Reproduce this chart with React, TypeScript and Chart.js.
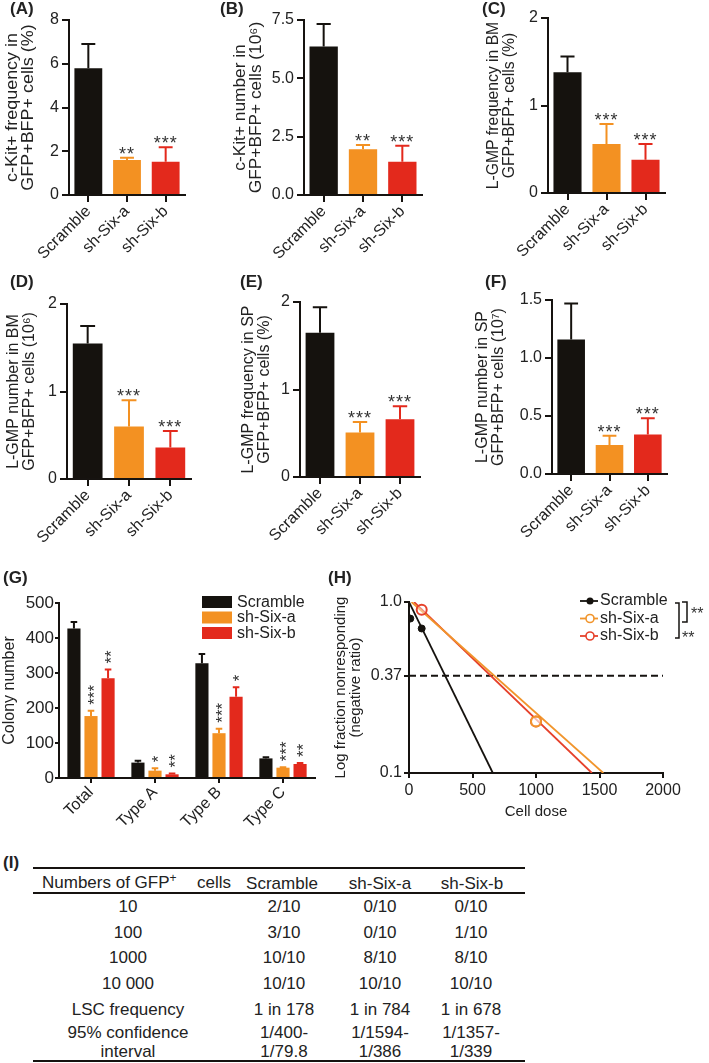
import { useEffect, useRef } from "react"
import { Chart, registerables } from "chart.js"

Chart.register(...registerables)

const FONT = "'Liberation Sans', Arial, Helvetica, sans-serif"
Chart.defaults.font.family = FONT
Chart.defaults.color = "#222"

const INK = "#161310"
const TEXT = "#222"
const STAR = "#333"
const BLACK = "#15120e"
const ORANGE = "#f39122"
const RED = "#e3291c"
const groupColors = [BLACK, ORANGE, RED]

// ---- panels A-F: mean, SEM, significance
const groups = ["Scramble", "sh-Six-a", "sh-Six-b"]

const ckitFreqMean = [5.8, 1.6, 1.52]
const ckitFreqSem = [1.1, 0.1, 0.66]
const ckitFreqStars = ["", "**", "***"]

const ckitNumMean = [6.36, 1.96, 1.43]
const ckitNumSem = [0.97, 0.18, 0.68]
const ckitNumStars = ["", "**", "***"]

const gmpBmFreqMean = [1.38, 0.56, 0.38]
const gmpBmFreqSem = [0.18, 0.23, 0.18]
const gmpBmFreqStars = ["", "***", "***"]

const gmpBmNumMean = [1.55, 0.6, 0.36]
const gmpBmNumSem = [0.2, 0.3, 0.19]
const gmpBmNumStars = ["", "***", "***"]

const gmpSpFreqMean = [1.65, 0.51, 0.66]
const gmpSpFreqSem = [0.29, 0.12, 0.15]
const gmpSpFreqStars = ["", "***", "***"]

const gmpSpNumMean = [1.16, 0.25, 0.34]
const gmpSpNumSem = [0.31, 0.08, 0.14]
const gmpSpNumStars = ["", "***", "***"]

// ---- panel G: colonies
const colonyTypes = ["Total", "Type A", "Type B", "Type C"]
const colonyScramble = [427, 44, 328, 56]
const colonyScrambleSem = [19, 5, 26, 3]
const colonySixA = [177, 21, 128, 29.5]
const colonySixASem = [15, 7, 13, 1.5]
const colonySixB = [285, 10.5, 232, 40]
const colonySixBSem = [25, 2.5, 27, 3]
const colonyStarsScramble = ["", "", "", ""]
const colonyStarsSixA = ["***", "*", "***", "***"]
const colonyStarsSixB = ["**", "**", "*", "**"]

// ---- panel H: limiting dilution
const scrambleDose = [10, 100]
const scrambleFrac = [0.8, 0.7]
const sixADose = [1000]
const sixAFrac = [0.2]
const sixBDose = [100, 1000]
const sixBFrac = [0.9, 0.2]
const scrambleFitDose = [0, 660]
const scrambleFitFrac = [1, 0.1]
const sixAFitDose = [20, 1530]
const sixAFitFrac = [1, 0.1]
const sixBFitDose = [40, 1440]
const sixBFitFrac = [1, 0.1]
const refDose = [0, 2000]
const refFrac = [0.37, 0.37]
const ldaTicks = [0.1, 0.37, 1]
const ldaTickLabels = ["0.1", "0.37", "1.0"]
const H_ORANGE = "#f1952c"
const H_RED = "#e6412b"

// ---- panel I: table
const doseLabels = ["10", "100", "1000", "10 000"]
const scrambleHits = ["2/10", "3/10", "10/10", "10/10"]
const sixAHits = ["0/10", "0/10", "8/10", "10/10"]
const sixBHits = ["0/10", "1/10", "8/10", "10/10"]
const lscFreq = ["1 in 178", "1 in 784", "1 in 678"]
const ciUpper = ["1/400-", "1/1594-", "1/1357-"]
const ciLower = ["1/79.8", "1/386", "1/339"]

type Frame = {
  left: number; top: number; width: number; height: number
  axisX: number; axisTop: number; axisBottom: number; axisRight: number
}

const layoutFor = (f: Frame) => ({
  padding: { left: 0, top: f.axisTop - f.top, right: f.left + f.width - f.axisRight, bottom: 0 },
})

const axisStyle = (tickLength: number) => ({
  grid: { drawOnChartArea: false, drawTicks: true, tickLength, color: INK, tickColor: INK, lineWidth: 2, offset: false },
  border: { display: true, color: INK, width: 2 },
})

function errorBars(starSize: number, spacing: number, gap: number, rotate: boolean) {
  return {
    id: "errorBars",
    afterDatasetsDraw(chart: any) {
      const { ctx } = chart
      const yScale = chart.scales.y
      chart.data.datasets.forEach((ds: any, i: number) => {
        chart.getDatasetMeta(i).data.forEach((bar: any, j: number) => {
          const top = yScale.getPixelForValue(ds.data[j] + ds.sem[j])
          const color = Array.isArray(ds.backgroundColor) ? ds.backgroundColor[j] : ds.backgroundColor
          const half = bar.width / 4
          ctx.save()
          ctx.strokeStyle = color
          ctx.lineWidth = 2
          ctx.beginPath()
          ctx.moveTo(bar.x, bar.y)
          ctx.lineTo(bar.x, top)
          ctx.moveTo(bar.x - half, top)
          ctx.lineTo(bar.x + half, top)
          ctx.stroke()
          const star = ds.stars[j]
          if (star) {
            ctx.fillStyle = STAR
            ctx.font = `${starSize}px ${FONT}`
            ctx.letterSpacing = `${spacing}px`
            ctx.textBaseline = "alphabetic"
            const m = ctx.measureText(star)
            if (rotate) {
              ctx.translate(bar.x, top - gap)
              ctx.rotate(-Math.PI / 2)
              ctx.textAlign = "left"
              ctx.fillText(star, 0, (m.actualBoundingBoxAscent - m.actualBoundingBoxDescent) / 2)
            } else {
              ctx.textAlign = "center"
              ctx.fillText(star, bar.x, top - gap - m.actualBoundingBoxDescent)
            }
          }
          ctx.restore()
        })
      })
    },
  }
}

// rotated y titles, x given in page px
function sideTitles(f: Frame, lines: [string, number][], size: number, stretch: number) {
  return {
    id: "sideTitles",
    afterDraw(chart: any) {
      const { ctx, chartArea } = chart
      const cy = (chartArea.top + chartArea.bottom) / 2
      ctx.save()
      ctx.fillStyle = TEXT
      ctx.font = `${size}px ${FONT}`
      ctx.textAlign = "center"
      ctx.textBaseline = "middle"
      lines.forEach(([text, x]) => {
        ctx.save()
        ctx.translate(x - f.left, cy)
        ctx.rotate(-Math.PI / 2)
        ctx.scale(stretch, 1)
        ctx.fillText(text, 0, 0)
        ctx.restore()
      })
      ctx.restore()
    },
  }
}

type BarSpec = {
  means: number[]; sems: number[]; stars: string[]
  max: number; step: number; decimals: number
  titles: [string, number][]; stretch: number
}

function barPanel(f: Frame, p: BarSpec) {
  return {
    type: "bar",
    data: {
      labels: groups,
      datasets: [{
        data: p.means, sem: p.sems, stars: p.stars,
        backgroundColor: groupColors, barPercentage: 0.72, categoryPercentage: 1,
      }],
    },
    options: {
      responsive: false, animation: false, events: [],
      layout: layoutFor(f),
      plugins: { legend: { display: false }, tooltip: { enabled: false } },
      scales: {
        x: {
          ...axisStyle(7),
          ticks: { color: TEXT, font: { size: 16 }, minRotation: 45, maxRotation: 45, autoSkip: false, padding: 0 },
          afterFit: (s: any) => { s.height = f.top + f.height - f.axisBottom },
        },
        y: {
          ...axisStyle(7),
          min: 0, max: p.max,
          ticks: { color: TEXT, font: { size: 16 }, stepSize: p.step, padding: 3, callback: (v: any) => Number(v).toFixed(p.decimals) },
          afterFit: (s: any) => { s.width = f.axisX - f.left },
        },
      },
    },
    plugins: [errorBars(18, 1, 4, false), sideTitles(f, p.titles, 16, p.stretch)],
  }
}

function colonyPanel(f: Frame) {
  const legend = {
    id: "colonyLegend",
    afterDraw(chart: any) {
      const { ctx } = chart
      ctx.save()
      ctx.font = `16px ${FONT}`
      ctx.textBaseline = "middle"
      ctx.textAlign = "left"
      chart.data.datasets.forEach((ds: any, i: number) => {
        const y = 36 + i * 15.5
        ctx.fillStyle = ds.backgroundColor
        ctx.fillRect(202, y, 30, 12)
        ctx.fillStyle = TEXT
        ctx.fillText(ds.label, 237, y + 6.5)
      })
      ctx.restore()
    },
  }
  const set = (label: string, data: number[], sem: number[], stars: string[], color: string) => ({
    label, data, sem, stars, backgroundColor: color, barPercentage: 0.77, categoryPercentage: 0.8,
  })
  return {
    type: "bar",
    data: {
      labels: colonyTypes,
      datasets: [
        set(groups[0], colonyScramble, colonyScrambleSem, colonyStarsScramble, BLACK),
        set(groups[1], colonySixA, colonySixASem, colonyStarsSixA, ORANGE),
        set(groups[2], colonySixB, colonySixBSem, colonyStarsSixB, RED),
      ],
    },
    options: {
      responsive: false, animation: false, events: [],
      layout: layoutFor(f),
      plugins: { legend: { display: false }, tooltip: { enabled: false } },
      scales: {
        x: {
          ...axisStyle(5),
          ticks: { color: TEXT, font: { size: 16 }, minRotation: 45, maxRotation: 45, autoSkip: false, padding: 0 },
          afterFit: (s: any) => { s.height = f.top + f.height - f.axisBottom },
        },
        y: {
          ...axisStyle(4),
          min: 0, max: 500,
          ticks: { color: TEXT, font: { size: 17 }, stepSize: 100, padding: 1 },
          afterFit: (s: any) => { s.width = f.axisX - f.left },
        },
      },
    },
    plugins: [errorBars(17, 0, 6, true), sideTitles(f, [["Colony number", 10]], 16, 1), legend],
  }
}

function ldaPanel(f: Frame) {
  const pts = (xs: number[], ys: number[]) => xs.map((x, i) => ({ x, y: ys[i] }))
  const fit = (xs: number[], ys: number[], color: string, extra = {}) => ({
    data: pts(xs, ys), showLine: true, borderColor: color, borderWidth: 1.8, pointRadius: 0, fill: false, tension: 0, ...extra,
  })
  const legendRows = [
    { label: groups[0], color: BLACK, open: false },
    { label: groups[1], color: H_ORANGE, open: true },
    { label: groups[2], color: H_RED, open: true },
  ]
  const legend = {
    id: "ldaLegend",
    afterDraw(chart: any) {
      const { ctx } = chart
      const ox = f.left, oy = f.top
      ctx.save()
      ctx.font = `16px ${FONT}`
      ctx.textBaseline = "middle"
      ctx.textAlign = "left"
      legendRows.forEach((r, i) => {
        const y = 601 + i * 17.5 - oy
        ctx.strokeStyle = r.color
        ctx.lineWidth = 1.8
        ctx.beginPath()
        ctx.moveTo(580 - ox, y)
        ctx.lineTo(598 - ox, y)
        ctx.stroke()
        ctx.beginPath()
        ctx.arc(590 - ox, y, r.open ? 4 : 3.5, 0, Math.PI * 2)
        if (r.open) {
          ctx.fillStyle = "#fff"
          ctx.fill()
          ctx.lineWidth = 1.6
          ctx.stroke()
        } else {
          ctx.fillStyle = r.color
          ctx.fill()
        }
        ctx.fillStyle = TEXT
        ctx.fillText(r.label, 600 - ox, y)
      })
      // significance brackets
      ctx.strokeStyle = INK
      ctx.lineWidth = 1.5
      ctx.beginPath()
      ctx.moveTo(675 - ox, 603 - oy); ctx.lineTo(679 - ox, 603 - oy); ctx.lineTo(679 - ox, 638 - oy); ctx.lineTo(675 - ox, 638 - oy)
      ctx.moveTo(682 - ox, 602 - oy); ctx.lineTo(687 - ox, 602 - oy); ctx.lineTo(687 - ox, 622 - oy); ctx.lineTo(682 - ox, 622 - oy)
      ctx.stroke()
      ctx.fillStyle = STAR
      ctx.font = `16px ${FONT}`
      ctx.textBaseline = "alphabetic"
      ctx.fillText("**", 691 - ox, 619 - oy)
      ctx.fillText("**", 682 - ox, 643 - oy)
      // x title
      const ca = chart.chartArea
      ctx.fillStyle = TEXT
      ctx.font = `15px ${FONT}`
      ctx.textAlign = "center"
      ctx.textBaseline = "middle"
      ctx.fillText("Cell dose", (ca.left + ca.right) / 2, ca.bottom + 39)
      ctx.restore()
    },
  }
  return {
    type: "scatter",
    data: {
      datasets: [
        { data: pts(scrambleDose, scrambleFrac), showLine: false, pointRadius: 3.5, pointBackgroundColor: BLACK, pointBorderColor: BLACK },
        { data: pts(sixADose, sixAFrac), showLine: false, pointRadius: 5, pointBorderWidth: 2, pointBorderColor: H_ORANGE, pointBackgroundColor: "rgba(255,255,255,0.4)" },
        { data: pts(sixBDose, sixBFrac), showLine: false, pointRadius: 5, pointBorderWidth: 2, pointBorderColor: H_RED, pointBackgroundColor: "rgba(255,255,255,0.4)" },
        fit(scrambleFitDose, scrambleFitFrac, BLACK),
        fit(sixAFitDose, sixAFitFrac, H_ORANGE),
        fit(sixBFitDose, sixBFitFrac, H_RED),
        fit(refDose, refFrac, INK, { borderWidth: 2, borderDash: [7, 4] }),
      ],
    },
    options: {
      responsive: false, animation: false, events: [],
      layout: layoutFor(f),
      plugins: { legend: { display: false }, tooltip: { enabled: false } },
      scales: {
        x: {
          ...axisStyle(5),
          type: "linear", min: 0, max: 2000,
          ticks: { color: TEXT, font: { size: 16 }, stepSize: 500, padding: 3, callback: (v: any) => String(v) },
          afterFit: (s: any) => { s.height = f.top + f.height - f.axisBottom },
        },
        y: {
          ...axisStyle(5),
          type: "logarithmic", min: 0.1, max: 1,
          afterBuildTicks: (s: any) => { s.ticks = ldaTicks.map((value) => ({ value })) },
          ticks: { color: TEXT, font: { size: 16 }, padding: 2, callback: (_v: any, i: number) => ldaTickLabels[i] },
          afterFit: (s: any) => { s.width = f.axisX - f.left },
        },
      },
    },
    plugins: [sideTitles(f, [["Log fraction nonresponding", 341], ["(negative ratio)", 356]], 15, 1), legend],
  }
}

const frames: Record<string, Frame> = {
  A: { left: 0, top: 0, width: 236, height: 262, axisX: 69, axisTop: 20, axisBottom: 195, axisRight: 185 },
  B: { left: 228, top: 0, width: 244, height: 262, axisX: 304, axisTop: 20, axisBottom: 195, axisRight: 422 },
  C: { left: 472, top: 0, width: 237, height: 262, axisX: 548, axisTop: 18, axisBottom: 193, axisRight: 665 },
  D: { left: 0, top: 268, width: 236, height: 290, axisX: 67, axisTop: 304, axisBottom: 479, axisRight: 191 },
  E: { left: 228, top: 268, width: 244, height: 290, axisX: 300, axisTop: 302, axisBottom: 477, axisRight: 420 },
  F: { left: 466, top: 268, width: 243, height: 290, axisX: 552, axisTop: 300, axisBottom: 474, axisRight: 667 },
  G: { left: 0, top: 560, width: 340, height: 280, axisX: 59, axisTop: 603, axisBottom: 778, axisRight: 315 },
  H: { left: 330, top: 560, width: 379, height: 270, axisX: 409, axisTop: 602, axisBottom: 773, axisRight: 663 },
}

const panels: { key: string; build: () => any }[] = [
  { key: "A", build: () => barPanel(frames.A, { means: ckitFreqMean, sems: ckitFreqSem, stars: ckitFreqStars, max: 8, step: 2, decimals: 0, stretch: 1.12, titles: [["c-Kit+ frequency in", 13], ["GFP+BFP+ cells (%)", 29]] }) },
  { key: "B", build: () => barPanel(frames.B, { means: ckitNumMean, sems: ckitNumSem, stars: ckitNumStars, max: 7.5, step: 2.5, decimals: 1, stretch: 1.08, titles: [["c-Kit+ number in", 241], ["GFP+BFP+ cells (10⁶)", 257]] }) },
  { key: "C", build: () => barPanel(frames.C, { means: gmpBmFreqMean, sems: gmpBmFreqSem, stars: gmpBmFreqStars, max: 2, step: 1, decimals: 0, stretch: 0.98, titles: [["L-GMP frequency in BM", 494], ["GFP+BFP+ cells (%)", 510]] }) },
  { key: "D", build: () => barPanel(frames.D, { means: gmpBmNumMean, sems: gmpBmNumSem, stars: gmpBmNumStars, max: 2, step: 1, decimals: 0, stretch: 1, titles: [["L-GMP number in BM", 14], ["GFP+BFP+ cells (10⁶)", 30]] }) },
  { key: "E", build: () => barPanel(frames.E, { means: gmpSpFreqMean, sems: gmpSpFreqSem, stars: gmpSpFreqStars, max: 2, step: 1, decimals: 0, stretch: 1, titles: [["L-GMP frequency in SP", 249], ["GFP+BFP+ cells (%)", 265]] }) },
  { key: "F", build: () => barPanel(frames.F, { means: gmpSpNumMean, sems: gmpSpNumSem, stars: gmpSpNumStars, max: 1.5, step: 0.5, decimals: 1, stretch: 1, titles: [["L-GMP number in SP", 483], ["GFP+BFP+ cells (10⁷)", 499]] }) },
  { key: "G", build: () => colonyPanel(frames.G) },
  { key: "H", build: () => ldaPanel(frames.H) },
]

const panelLabels: [string, number, number][] = [
  ["(A)", 10, 0], ["(B)", 220, 0], ["(C)", 482, 0],
  ["(D)", 10, 273], ["(E)", 240, 273], ["(F)", 485, 273],
  ["(G)", 3, 569], ["(H)", 328, 569], ["(I)", 3, 854],
]

function ChartBox({ frame, build }: { frame: Frame; build: () => any }) {
  const ref = useRef<HTMLCanvasElement | null>(null)
  useEffect(() => {
    if (!ref.current) return
    const chart = new Chart(ref.current, build())
    return () => {
      chart.destroy()
    }
  }, [frame, build])
  return <canvas ref={ref} width={frame.width} height={frame.height}
    style={{ position: "absolute", left: frame.left, top: frame.top, width: frame.width, height: frame.height }} />
}

const tableCols = [128, 284, 380, 471]

function Cell({ x, y, children }: { x: number; y: number; children: any }) {
  return <div style={{ position: "absolute", left: x, top: y, transform: "translate(-50%, -50%)", whiteSpace: "pre", textAlign: "center", lineHeight: "19px" }}>{children}</div>
}

function LdaTable() {
  const rows = doseLabels.map((d, i) => [d, scrambleHits[i], sixAHits[i], sixBHits[i]])
  rows.push(["LSC frequency", ...lscFreq])
  const rule = (top: number) => <div style={{ position: "absolute", left: 33, top, width: 492, height: 2, background: INK }} />
  return (
    <div style={{ position: "absolute", left: 0, top: 0, fontSize: 17, color: TEXT }}>
      {rule(867)}
      {rule(892)}
      {rule(1060)}
      <div style={{ position: "absolute", left: 42, top: 883, transform: "translateY(-50%)", whiteSpace: "nowrap" }}>
        Numbers of GFP<sup style={{ fontSize: 12, verticalAlign: 6, lineHeight: 0 }}>+</sup>
      </div>
      <div style={{ position: "absolute", left: 197, top: 883, transform: "translateY(-50%)" }}>cells</div>
      {groups.map((g, i) => <Cell key={g} x={[282, 380, 472][i]} y={883}>{g}</Cell>)}
      {rows.map((r, i) => r.map((t, j) => <Cell key={`${i}-${j}`} x={tableCols[j]} y={906 + i * 25.7}>{t}</Cell>))}
      <Cell x={tableCols[0]} y={1042}>{"95% confidence\ninterval"}</Cell>
      {ciUpper.map((u, j) => <Cell key={u} x={tableCols[j + 1]} y={1042}>{`${u}\n${ciLower[j]}`}</Cell>)}
    </div>
  )
}

export default function App() {
  return (
    <div style={{ position: "absolute", left: 0, top: 0, width: 709, height: 1063, background: "#fff", fontFamily: FONT, color: TEXT, overflow: "hidden" }}>
      {panels.map((p) => <ChartBox key={p.key} frame={frames[p.key]} build={p.build} />)}
      {panelLabels.map(([t, x, y]) => (
        <div key={t} style={{ position: "absolute", left: x, top: y, fontWeight: "bold", fontSize: 17, lineHeight: "18px" }}>{t}</div>
      ))}
      <LdaTable />
    </div>
  )
}
